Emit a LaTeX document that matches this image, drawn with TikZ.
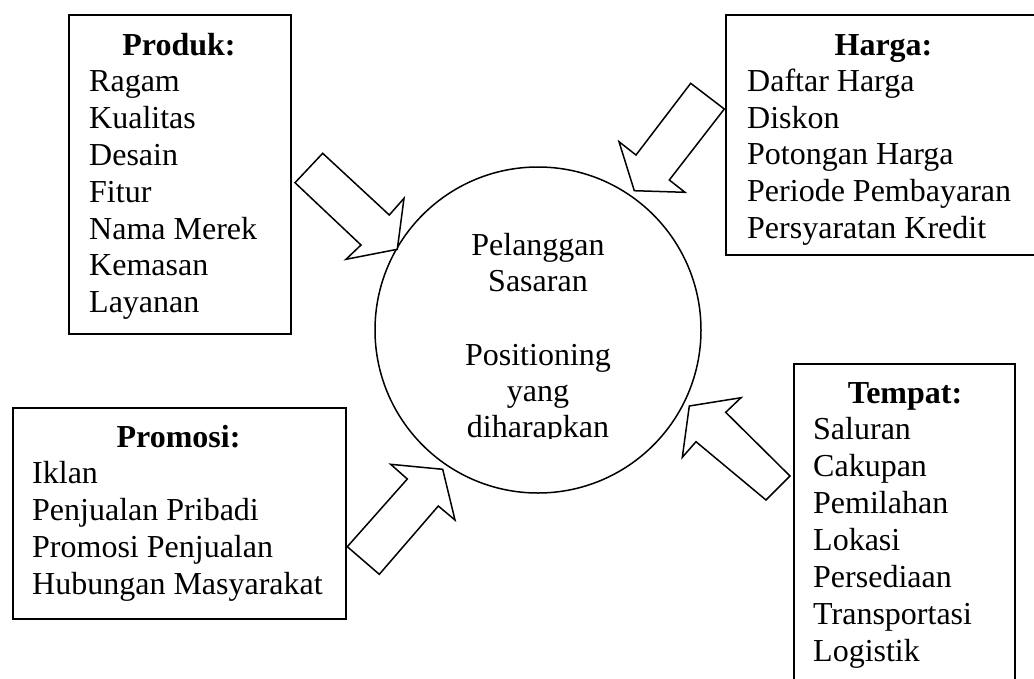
\documentclass[tikz,border=0pt]{standalone}
\usepackage{fontspec}
\setmainfont{Liberation Serif}
\begin{document}
\begin{tikzpicture}[x=1pt,y=-1pt,
  box/.style={draw=black, line width=1.6pt, fill=white},
  blockarrow/.style={draw=black, line width=1.5pt, fill=white, line join=miter},
  titletext/.style={font=\fontsize{32}{36.8}\selectfont\bfseries, inner sep=0pt, anchor=base},
  itemtext/.style={font=\fontsize{32}{36.8}\selectfont, inner sep=0pt, anchor=base west},
  centertext/.style={font=\fontsize{32}{36.8}\selectfont, inner sep=0pt, anchor=base}]
\useasboundingbox (0,0) rectangle (1034,678);

% circle
\node[draw=black, line width=1.5pt, circle, minimum size=326pt, inner sep=0pt] (circ) at (538,330) {};
\begin{scope}
  \clip (380,160) rectangle (700,438.5);
  \node[centertext] (c1) at (538,255) {Pelanggan};
  \node[centertext] (c2) at (538,291.8) {Sasaran};
  \node[centertext] (c3) at (538,365.4) {Positioning};
  \node[centertext] (c4) at (538,401.5) {yang};
  \node[centertext] (c5) at (538,437.5) {diharapkan};
\end{scope}

% Produk box
\node[box, anchor=north west, minimum width=222pt, minimum height=319pt, inner sep=0pt] (produk) at (68,14) {};
\node[titletext] (produkT) at (179,55) {Produk:};
\foreach \t [count=\i] in {Ragam,Kualitas,Desain,Fitur,Nama Merek,Kemasan,Layanan}
  \node[itemtext] (produk\i) at (89,{55+36.8*\i}) {\t};

% Harga box
\node[box, anchor=north west, minimum width=317pt, minimum height=240pt, inner sep=0pt] (harga) at (725,14) {};
\node[titletext] (hargaT) at (883.5,55) {Harga:};
\foreach \t [count=\i] in {Daftar Harga,Diskon,Potongan Harga,Periode Pembayaran,Persyaratan Kredit}
  \node[itemtext] (harga\i) at (747,{55+36.6*\i}) {\t};

% Promosi box
\node[box, anchor=north west, minimum width=333pt, minimum height=211pt, inner sep=0pt] (promosi) at (12,407) {};
\node[titletext] (promosiT) at (178.5,447) {Promosi:};
\foreach \t [count=\i] in {Iklan,Penjualan Pribadi,Promosi Penjualan,Hubungan Masyarakat}
  \node[itemtext] (promosi\i) at (32,{447+36.8*\i}) {\t};

% Tempat box
\node[box, anchor=north west, minimum width=221pt, minimum height=330pt, inner sep=0pt] (tempat) at (793,363) {};
\node[titletext] (tempatT) at (905,403) {Tempat:};
\foreach \t [count=\i] in {Saluran,Cakupan,Pemilahan,Lokasi,Persediaan,Transportasi,Logistik}
  \node[itemtext] (tempat\i) at (813,{403+36.9*\i}) {\t};

% block arrows
\draw[blockarrow] (322.7,153.3) -- (389.3,215) -- (404,198.3) -- (397.3,249.3)
  -- (346,259.3) -- (361,245) -- (295,182.7) -- cycle;
\draw[blockarrow] (690.7,83.3) -- (724.3,109) -- (669.3,180) -- (685,192.3)
  -- (634.3,190.7) -- (619,141.7) -- (636,155) -- cycle;
\draw[blockarrow] (347.3,546.7) -- (407.3,479) -- (390.7,464.3) -- (442.7,469.3)
  -- (455,520) -- (438.3,506) -- (379.3,574.3) -- cycle;
\draw[blockarrow] (689.3,406) -- (741,397.7) -- (725.7,412.3) -- (790,476)
  -- (766,500) -- (696,441.7) -- (682.3,457.3) -- cycle;
\end{tikzpicture}
\end{document}
